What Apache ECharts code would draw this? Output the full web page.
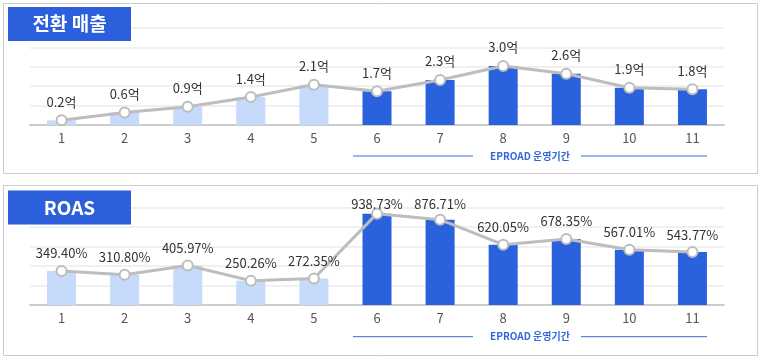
<!DOCTYPE html>
<html><head><meta charset="utf-8">
<script src="https://cdn.jsdelivr.net/npm/echarts@6/dist/echarts.min.js"></script>
<style>html,body{margin:0;padding:0;background:#fff}#c{width:763px;height:360px}</style>
</head><body><div id="c"></div>
<script>
const categories = ['1','2','3','4','5','6','7','8','9','10','11'];
const salesValues = [0.24, 0.64, 0.94, 1.44, 2.08, 1.74, 2.32, 3.04, 2.64, 1.92, 1.84];
const roasValues = [349.40, 310.80, 405.97, 250.26, 272.35, 938.73, 876.71, 620.05, 678.35, 567.01, 543.77];
const salesTitle = '전환 매출';
const roasTitle = 'ROAS';
const periodLabel = 'EPROAD 운영기간';
const periodStartIndex = 5;

const FONT = '"Noto Sans CJK KR", "Noto Sans", sans-serif';
const DARK = '#2a62dd', LIGHT = '#c6dafb', TITLE_BG = '#2b5fdc';

function barColor(p){ return p.dataIndex >= periodStartIndex ? DARK : LIGHT; }

const xAxisBase = {
  type:'category', data:categories, boundaryGap:true,
  axisTick:{show:false},
  axisLine:{lineStyle:{color:'#cccccc', width:2}},
  axisLabel:{color:'#555', fontSize:13, fontFamily:FONT, margin:7}
};
const yAxisBase = {
  type:'value', min:0,
  axisLabel:{show:false}, axisLine:{show:false}, axisTick:{show:false},
  splitLine:{lineStyle:{color:'#f0f0f0', width:2}}
};
const lineBase = {
  type:'line', symbol:'circle', symbolSize:10, z:5,
  lineStyle:{color:'#bdbdbd', width:3},
  itemStyle:{color:'#ffffff', borderColor:'#bdbdbd', borderWidth:2},
  label:{show:true, position:'top', color:'#333', fontSize:13, fontFamily:FONT}
};

function panel(top){
  return [
    {type:'rect', shape:{x:3.5, y:top+0.5, width:754, height:170}, style:{fill:'none', stroke:'#cccccc', lineWidth:1}, z:0},
  ];
}
function titleBox(top, text){
  return {type:'group', z:100, children:[
    {type:'rect', z:100, shape:{x:8, y:top, width:123, height:34}, style:{fill:TITLE_BG}},
    {type:'text', z:101, x:69.5, y:top+17, style:{text:text, fill:'#fff', font:'bold 19px '+FONT, align:'center', verticalAlign:'middle'}}
  ]};
}
function period(y){
  return [
    {type:'line', shape:{x1:353, y1:y, x2:473, y2:y}, style:{stroke:'#3a6bd8', lineWidth:1}},
    {type:'line', shape:{x1:581, y1:y, x2:707, y2:y}, style:{stroke:'#3a6bd8', lineWidth:1}},
    {type:'text', x:530, y:y, style:{text:periodLabel, fill:'#3366dd', font:'bold 10px '+FONT, align:'center', verticalAlign:'middle'}}
  ];
}

const chart = echarts.init(document.getElementById('c'), null, {renderer:'canvas'});
const grid2Top = 207.7;
chart.setOption({
  animation:false,
  backgroundColor:'#ffffff',
  grid:[
    {left:30, right:39, top:28, height:97},
    {left:30, right:39, top:grid2Top, height:97.3}
  ],
  xAxis:[ Object.assign({gridIndex:0}, xAxisBase), Object.assign({gridIndex:1}, xAxisBase) ],
  yAxis:[ Object.assign({gridIndex:0, max:5, interval:1}, yAxisBase), Object.assign({gridIndex:1, max:1000, interval:200}, yAxisBase) ],
  series:[
    {type:'bar', xAxisIndex:0, yAxisIndex:0, data:salesValues, barWidth:'46%', itemStyle:{color:barColor}},
    Object.assign({}, lineBase, {xAxisIndex:0, yAxisIndex:0, data:salesValues,
      label:Object.assign({}, lineBase.label, {distance:6, formatter:p => p.value.toFixed(1)+'억'})}),
    {type:'bar', xAxisIndex:1, yAxisIndex:1, data:roasValues, barWidth:'46%', itemStyle:{color:barColor}},
    Object.assign({}, lineBase, {xAxisIndex:1, yAxisIndex:1, data:roasValues,
      label:Object.assign({}, lineBase.label, {distance:5, formatter:p => p.value.toFixed(2)+'%'}),
      labelLayout:function(params){
        const r = params.labelRect;
        const c = r.y + r.height/2;
        const minC = grid2Top - 3.5;
        if (c < minC) return {dy: minC - c};
        return {};
      }})
  ],
  graphic:[].concat(panel(3), panel(185), [titleBox(7, salesTitle), titleBox(190.5, roasTitle)], period(156), period(336.7))
});
</script></body></html>
